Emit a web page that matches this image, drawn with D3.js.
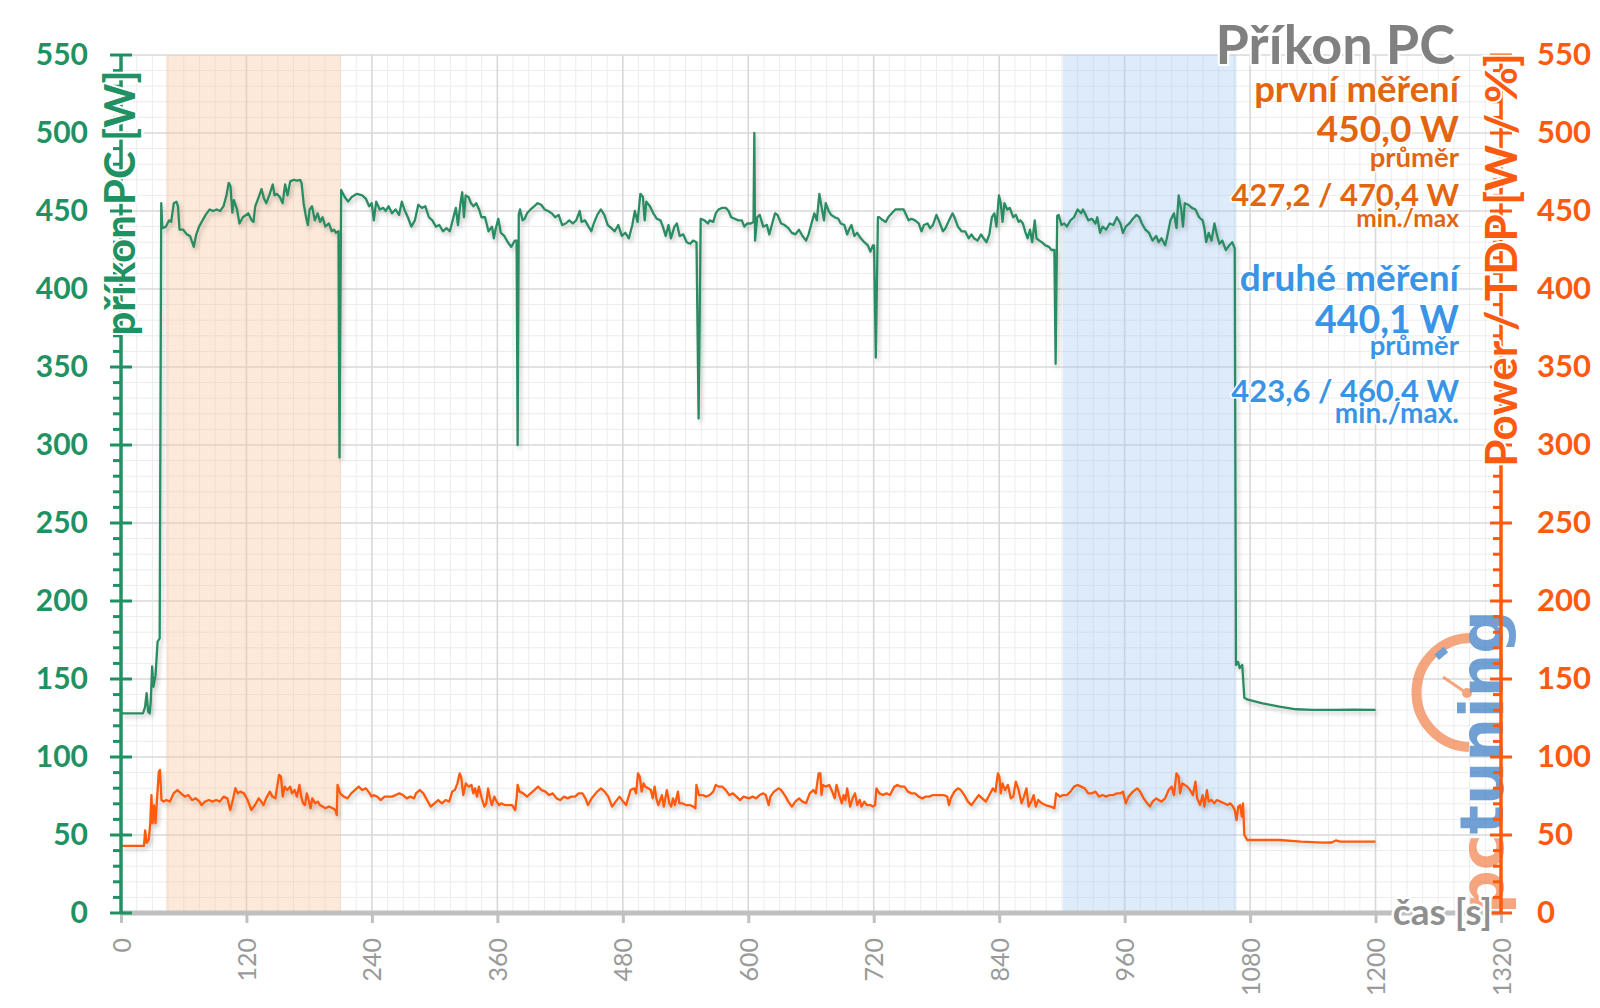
<!DOCTYPE html>
<html><head><meta charset="utf-8">
<script src="https://cdn.jsdelivr.net/npm/d3@7"></script>
<style>body{margin:0;background:#fff}svg{display:block}text{font-family:Lato,'Open Sans',sans-serif}</style>
</head><body><svg id="c" width="1600" height="1008"></svg>
<script>
// ---------- data ----------
const timeTicks = [0,120,240,360,480,600,720,840,960,1080,1200,1320];
const powerTicks = [0,50,100,150,200,250,300,350,400,450,500,550];
const bandPrvni = [43, 210.5];
const bandDruhe = [901, 1067];
const chartTitle = "Příkon PC";
const leftTitle = "příkon PC [W]";
const rightTitle = "Power / TDP [W / %]";
const xTitle = "čas [s]";
const infoPrvni = ["první měření","450,0 W","průměr","427,2 / 470,4 W","min./max"];
const infoDruhe = ["druhé měření","440,1 W","průměr","423,6 / 460,4 W","min./max."];

// příkon PC [W] : [time s, watts]
const prikonPC = [
[0,128],[21,128],[23,132],[24.5,141],[26,129],[27.5,128],[28.5,136],[29.8,158],[31,145],[33,152],[35,174],[37,176],
[38.5,455],[39.5,439],[43,440],[46,444],[48,443],[50.5,455],[53,456],[54.5,453],[56,438],[59.5,438],[63,435],[66,434],[69.6,427],[72,435],[74.7,440],[78,444],[81.4,448],[84.8,451],[88,450],[91.5,451],[94.8,450],[98,453],[100.9,460],[103,468],[104.7,466],[106.5,449],[108,457],[111,451],[113.3,442],[116.6,446],[121.7,448.5],[125,444],[126.7,443],[128.4,453],[131.8,459],[134.4,464],[136.8,458],[139,455],[141.8,460],[145.2,467],[146.9,460],[149,461],[151.9,459],[154.6,455],[157,467],[159.3,460],[161.9,469],[165.3,470],[168.6,469.5],[171.3,470],[172.7,468],[174.7,455],[177,446],[178.7,441],[180.4,451],[182.7,453],[185.4,444],[188.1,448.5],[190.5,443],[192.8,446],[195.5,440],[198.9,442],[201.6,437],[203.9,438],[205.6,436],[208,437],[209,292],[210.6,463.5],
[214,459],[217.3,456],[220.7,459],[225.7,461],[230.7,460],[234.1,458],[237.4,453],[239.8,455],[241.8,444],[244.1,456],[247.5,451],[250.9,452],[253.2,450],[255.9,453],[259.2,448.5],[262.6,451],[266,447.5],[268.6,456],[271,451],[274.4,446],[277.7,440],[281.1,444],[284.4,454],[287.8,452],[291.1,453],[294.5,446],[297.8,444],[301.2,440],[304.5,441],[307.9,437],[311.3,439],[314.6,437],[318,446],[320.3,452],[322.3,441],[324.7,455],[326.4,462],[328,446],[329.7,460],[332.4,459],[334.8,455],[337.1,453],[339.8,455],[342.5,451],[344.8,446],[348.2,446],[351.5,437],[354.9,440],[356.6,432.5],[358.2,438],[360.9,445],[363.3,436],[366.6,434],[370,430],[373.3,427],[376.7,431],[378.4,431],[379.4,300],[380.5,448],
[381.7,451],[384.1,444],[386.1,445],[388.4,448.5],[391.8,451],[395.2,453],[398.5,455],[401.9,454],[405.2,451],[408.6,450],[412,448.5],[415.3,446],[418.6,447.5],[422,441],[425.4,442],[428.7,444],[432.1,442],[435.4,444],[438.8,450],[440.5,443],[443.8,444],[447.2,440],[449.9,437],[452.2,442],[455.6,447.5],[459,451],[462.3,447.5],[465.6,441],[469,439],[472.3,437],[475.7,441],[479,434],[482.4,436],[485.8,432.5],[489.1,441],[491.5,450],[494.1,443],[496.8,461],[499.2,459],[500.9,444],[502.5,456],[505.9,453],[509.2,448.5],[512.6,445],[516,444],[518.3,440],[521,434],[523.7,441],[526,432.5],[529.4,440],[531.7,442],[534.4,434],[537.8,435],[541.1,430],[544.5,429],[547.2,431],[550.5,430],[552.5,317],[554.5,445],
[558,444],[561.4,442],[563.1,444],[566.5,443],[568.9,448.5],[571.6,451],[575,452],[578.5,452],[581.2,450],[583.6,446],[587,445],[590.4,444],[593.8,444],[596.2,440],[599,442],[602.4,442],[605,443],[605.8,500],[606.5,431],[608.5,446],[610.9,447.5],[614.3,440],[617.8,441],[620.1,435],[622.9,442],[625.6,448.5],[628,447.5],[631.4,442],[634.8,441],[638.3,439],[641.7,436],[645.1,435],[648.5,438],[651.9,434],[655.3,431],[657.7,435],[660.5,442],[663.2,448.5],[665.6,444],[668,461],[670,453],[672.4,444],[674.1,455],[676.9,450],[679.3,447.5],[682.7,446],[686.1,445],[688.5,442],[691.9,441],[694.6,435],[696.3,438],[698.7,441],[701.5,434],[704.2,436],[707.6,432.5],[711,430],[714.4,428],[716.8,424],[719.2,428],[720.3,428],[722,356],[724,446],
[725.4,446],[728.8,444],[731.5,443],[733.9,446],[737.3,448.5],[740.7,451],[744.2,451],[748.6,451],[751,447.5],[753.4,444],[756.1,445],[759.5,444],[763,442],[765.7,437],[768.1,441],[771.5,442],[773.9,439],[776.6,441],[780,447.5],[783.4,442],[786.2,437],[788.6,439],[792,444],[795.4,448.5],[797.8,445],[800.5,440],[804,437],[807.4,437],[810.8,432.5],[813.5,435],[815.9,432.5],[819.3,431],[822.7,435],[825.1,432.5],[827.9,430],[830.6,435],[833,446],[835.4,448.5],[837.4,440],[839.8,460],[841.5,455],[843.2,443],[845,455],[847.7,451],[850.1,452],[853.5,446],[855.9,447.5],[858.6,443],[860.3,444],[862.7,442],[864.8,437],[867.2,432.5],[869.5,438],[871.6,430],[874,444],[875.7,432.5],[878.4,431],[880.8,430],[884.2,428],[887.7,427],[890,425],[892.8,425],[894,352],[895.5,447],
[896.9,447.5],[899.6,441],[902.3,442],[904.7,440],[908.2,444],[911.6,446],[915,451],[918.4,448.5],[920.1,451],[922.8,447.5],[925.2,444],[928.6,445],[932.1,442],[933.8,446],[936.5,436],[938.9,440],[942.3,438],[945.7,442],[949.2,441],[952.6,446],[956,442],[958.4,436],[961.1,440],[964.5,442],[967.9,445],[971.4,447.5],[974.1,446],[976.5,442],[979.9,438],[983.3,436],[986.7,431],[990.2,434],[992.5,430],[995.3,432.5],[998.7,428],[1000.4,432.5],[1003.8,444],[1007.2,448.5],[1009.6,439],[1011.7,460],[1014.1,451],[1015.8,440],[1017.5,455],[1020.9,454],[1024.3,452],[1027.7,451],[1031.2,446],[1034.6,444],[1036.3,439],[1038,430],[1040.4,436],[1043.1,431],[1045.9,442],[1048.2,435],[1050.6,429],[1053.4,431],[1056.8,425],[1060.2,428],[1062.9,430],[1065.3,426],
[1066.5,159],[1068.5,161],[1070,157],[1072.5,159],[1074.5,138],[1077,137],[1092,134.4],[1108,132.3],[1124,130.6],[1140,130.2],[1160,130.2],[1180,130.4],[1200,130.2]
];

// Power / TDP [W / %] : [time s, value]
const powerTDP = [
[0,43],[22,43],[23.1,53],[24.5,45],[26.6,47],[28,57.5],[29.1,75.6],[30.2,57.5],[31.6,69],[33,57.5],[34.4,72.4],[36.2,90.6],[37.3,91.7],[38.7,72.4],[40.8,71.4],[43.3,72.4],[46.8,71.4],[50.3,76.7],[53.9,78.8],[57.4,76.7],[61,74.6],[64.5,75.6],[68,72.4],[71.6,73.5],[75.1,71.4],[76.9,69.2],[80.4,71.4],[84,72.4],[87.5,71.4],[91,72.4],[94.6,71.4],[98.1,74.6],[101.7,73.5],[104.5,66],[107,72.4],[109.4,80],[111.6,76.7],[114,77.8],[117.6,76.7],[121.1,72.4],[124.7,66],[128.2,69.2],[131.7,73.5],[134.2,71.4],[136.3,69.2],[138.8,73.5],[142.4,77.8],[144.8,74.6],[147.7,73.5],[149.4,81],[151.2,88.5],[153,87.4],[154.7,74.6],[156.5,81],[159,78.8],[161.8,81],[163.6,76.7],[166.1,78.8],[168.2,74.6],[170.7,82.1],[172.4,74.6],[174.2,70.3],[176,69.2],[177.7,76.7],[179.5,72.4],[181.3,67.1],[183,73.5],[185.9,70.3],[188.4,71.4],[190.1,69.2],[193,68.2],[195.4,67.1],[199,68.2],[202.5,67.1],[205,66],[206.4,62.8],[207.1,82.1],[209.6,76.7],
[213.1,74.6],[216.7,73.5],[220.2,76.7],[223.7,78.8],[227.3,81],[230.8,78.8],[234.3,79.9],[237.9,76.7],[239.7,74.6],[241.4,75.6],[245,74.6],[248.5,72.4],[252.1,74.6],[255.6,74.6],[259.1,74.6],[262.7,75.6],[266.2,76.7],[269.7,75.6],[273.3,73.5],[276.8,74.6],[280.4,73.5],[282.1,76.7],[285.7,78.8],[289.2,76.7],[292.7,72.4],[296.3,68.2],[299.8,70.3],[303.4,72.4],[306.9,70.3],[310.4,72.4],[314,71.4],[316.8,77.8],[319.3,78.8],[321.8,83.1],[323.9,89.5],[325.3,87.4],[327.4,75.6],[329.9,83.1],[332.4,81],[335.2,82.1],[337,76.7],[338.7,79.9],[340.5,74.6],[342.3,81],[345.1,73.5],[347.6,68.2],[349.4,70.3],[351.1,79.9],[352.9,73.5],[354.7,69.2],[357.1,74.6],[359.3,71.4],[361.7,69.2],[363.5,70.3],[367,69.2],[370.6,69.2],[374.1,69.2],[377,66],[378.4,73.5],[379.4,82.1],
[381.2,77.8],[384.7,76.7],[388.3,74.6],[391.8,76.7],[395.4,78.8],[398.9,81],[402.4,78.8],[406,77.8],[409.5,75.6],[413,76.7],[416.6,73.5],[420.1,72.4],[423.7,74.6],[427.2,73.5],[430.7,74.6],[434.3,74.6],[437.8,76.7],[441.4,76.7],[444.2,73.5],[446.7,69.2],[450.2,73.5],[455.5,77.8],[459.1,79.9],[462.6,77.8],[466.1,74.6],[469.7,68.2],[473.2,71.4],[476.8,74.6],[480.3,71.4],[483.1,69.2],[487.4,78.8],[490.9,79.9],[492.7,76.7],[494.5,89.5],[496.2,87.4],[498,77.8],[499.8,83.1],[501.5,81],[504.4,79.9],[506.8,78.8],[508.6,73.5],[510.4,81],[512.1,73.5],[513.9,69.2],[515.7,72.4],[517.4,75.6],[519.2,68.2],[522.1,78.8],[524.5,70.3],[526.3,68.2],[528,73.5],[529.8,69.2],[532.7,77.8],[534.1,70.3],[536.9,70.3],[540.4,69.2],[544,69.2],[547.5,68.2],[549.4,67.1],[550.4,82.1],
[552.8,75.6],[556.3,75.6],[559.7,74.6],[563.1,75.6],[566.5,77.8],[568.9,82.1],[571.6,81],[575,81],[578.5,78.8],[581.9,75.6],[585.3,76.7],[588.7,74.6],[592.1,72.4],[595.5,74.6],[600.7,73.5],[604.1,74.6],[607.5,73.5],[610.9,75.6],[614.3,76.7],[616.7,75.6],[619.5,69.2],[621.2,74.6],[624.6,77.8],[629,79.9],[631.4,78.8],[634.8,75.6],[638.3,71.4],[641.7,68.2],[645.1,71.4],[648.5,73.5],[651.9,71.4],[655.3,70.3],[658.8,76.7],[662.2,78.8],[664.6,76.7],[667.3,89.5],[669,89.5],[670,75.6],[671.4,82.1],[674.1,81],[677.5,82.1],[680.3,77.8],[682.7,73.5],[684.4,82.1],[687.1,75.6],[689.5,70.3],[691.2,75.6],[692.9,72.4],[694.6,79.9],[697.4,68.2],[699.8,73.5],[702.1,76.7],[704.2,69.2],[706.6,72.4],[708.3,68.2],[711,71.4],[713.4,69.2],[716.8,69.2],[719.2,68.2],[721.3,69.2],[722.6,79.9],
[725.4,76.7],[728.8,75.6],[732.2,76.7],[735.6,75.6],[739.7,81],[742.5,82.1],[745.9,81],[749.3,81],[752.7,77.8],[756.1,76.7],[759.5,76.7],[763,74.6],[766.4,73.5],[769.8,74.6],[773.2,74.6],[776.6,75.6],[781.7,75.6],[786.9,75.6],[790.3,74.6],[792,69.2],[793.7,73.5],[797.1,77.8],[800.5,79.9],[803.3,78.8],[806.7,75.6],[810.1,71.4],[813.5,69.2],[816.9,72.4],[820.4,75.6],[823.8,73.5],[827.2,71.4],[830.6,75.6],[834,79.9],[836.4,77.8],[838.8,89.5],[840.2,87.4],[841.5,76.7],[843.2,83.1],[845.6,78.8],[848.4,82.1],[851.1,73.5],[853.5,74.6],[855.9,84.2],[858.6,78.8],[861.4,70.3],[863.7,74.6],[866.1,79.9],[868.2,68.2],[870.6,71.4],[873,75.6],[875,68.2],[877.4,72.4],[880.8,70.3],[884.2,69.2],[889.4,68.2],[892.8,67.1],[894.5,76.7],
[897.9,74.6],[901.3,75.6],[904.7,75.6],[908.2,77.8],[911.6,81],[915,82.1],[918.4,81],[921.8,79.9],[925.2,76.7],[928.6,76.7],[932.1,77.8],[935.5,74.6],[938.9,75.6],[942.3,74.6],[945.7,75.6],[949.2,75.6],[952.6,76.7],[956,76.7],[958.4,77.8],[961.1,70.3],[963.8,74.6],[968,77.8],[972,79.9],[974.8,77.8],[978.2,73.5],[981.6,70.3],[984.3,68.2],[986.7,71.4],[990.2,73.5],[992.5,72.4],[995.3,71.4],[998.7,73.5],[1002.1,78.8],[1004.9,81],[1007.2,75.6],[1009.6,89.5],[1011.7,87.4],[1013,76.7],[1015.1,83.1],[1017.5,82.1],[1019.9,81],[1022.6,78.8],[1025.3,75.6],[1027.7,84.2],[1029.4,73.5],[1032.2,69.2],[1034.6,75.6],[1036.3,68.2],[1038.7,78.8],[1040.4,71.4],[1043.1,72.4],[1045.8,70.3],[1048.2,72.4],[1051.6,71.4],[1055.1,70.3],[1058.5,69.2],[1060.9,70.3],[1063.6,68.2],[1065.3,66],[1067,59.6],[1068.7,68.2],[1070.4,69.2],[1072.1,61.8],[1073.2,70.3],[1074.5,50],[1077.3,46.8],
[1100,46.8],[1108,46.8],[1128.6,45.7],[1150,45.1],[1158,45.2],[1162,46.5],[1166,45.7],[1200,45.7]
];

// ---------- drawing ----------
const svg = d3.select("#c");
const x = d3.scaleLinear().domain([0,1320]).range([121,1501]);
const y = d3.scaleLinear().domain([0,550]).range([913,55]);
const GREEN = "#1f9162", GREEN_LINE = "#2b8c62", ORANGE = "#fc5a0e", ORANGE_LINE = "#ff5a0c";
const ORANGE_TXT = "#e2660f", BLUE_TXT = "#3a94e6", GREY = "#9a9a9a";

const defs = svg.append("defs");
const f = defs.append("filter").attr("id","sh").attr("x","-5%").attr("y","-10%").attr("width","110%").attr("height","130%");
f.append("feDropShadow").attr("dx",2).attr("dy",3).attr("stdDeviation",2).attr("flood-color","#000").attr("flood-opacity",0.22);

const plot = svg.append("g");
// minor grid
plot.selectAll(".mgx").data(d3.range(0,1321,15).filter(t=>t%120!==0)).join("line")
  .attr("x1",d=>x(d)).attr("x2",d=>x(d)).attr("y1",y(550)).attr("y2",y(0))
  .attr("stroke","#ececec").attr("stroke-width",1);
plot.selectAll(".mgy").data(d3.range(0,551,10).filter(v=>v%50!==0)).join("line")
  .attr("y1",d=>y(d)).attr("y2",d=>y(d)).attr("x1",x(0)).attr("x2",x(1320))
  .attr("stroke","#ececec").attr("stroke-width",1);
// major grid
plot.selectAll(".Mgx").data(timeTicks.slice(1)).join("line")
  .attr("x1",d=>x(d)).attr("x2",d=>x(d)).attr("y1",y(550)).attr("y2",y(0))
  .attr("stroke","#d8d8d8").attr("stroke-width",1.6);
plot.selectAll(".Mgy").data(powerTicks.slice(1)).join("line")
  .attr("y1",d=>y(d)).attr("y2",d=>y(d)).attr("x1",x(0)).attr("x2",x(1320))
  .attr("stroke","#d8d8d8").attr("stroke-width",1.6);

// bands
plot.append("rect").attr("x",x(bandPrvni[0])).attr("width",x(bandPrvni[1])-x(bandPrvni[0]))
  .attr("y",y(550)).attr("height",y(0)-y(550)).attr("fill","rgb(250,200,160)").attr("fill-opacity",0.4);
plot.append("rect").attr("x",x(bandDruhe[0])).attr("width",x(bandDruhe[1])-x(bandDruhe[0]))
  .attr("y",y(550)).attr("height",y(0)-y(550)).attr("fill","rgb(160,200,245)").attr("fill-opacity",0.36);

// logo watermark
const logo = svg.append("g").attr("opacity",0.72);
logo.append("path").attr("d","M1473,638 A54,54 0 0 0 1469,747").attr("fill","none")
  .attr("stroke","#f2844f").attr("stroke-width",10);
logo.append("rect").attr("x",1435).attr("y",650).attr("width",12).attr("height",7)
  .attr("transform","rotate(-40,1441,653)").attr("fill","#3b7dc4");
logo.append("line").attr("x1",1443).attr("y1",677).attr("x2",1465).attr("y2",692)
  .attr("stroke","#f2844f").attr("stroke-width",3);
logo.append("circle").attr("cx",1467).attr("cy",693).attr("r",5).attr("fill","#f2844f");
const lt = logo.append("text").attr("transform","translate(1503,914) rotate(-90)")
  .style("font-family","'DejaVu Sans',sans-serif").style("font-weight","bold").style("font-size","61px");
lt.append("tspan").attr("fill","#f2844f").text("pc");
lt.append("tspan").attr("fill","#3b7dc4").text("tuning");

// lines
const line = d3.line().x(d=>x(d[0])).y(d=>y(d[1]));
svg.append("path").datum(powerTDP).attr("d",line).attr("fill","none")
  .attr("stroke",ORANGE_LINE).attr("stroke-width",2.3).attr("stroke-linejoin","round").attr("filter","url(#sh)");
svg.append("path").datum(prikonPC).attr("d",line).attr("fill","none")
  .attr("stroke",GREEN_LINE).attr("stroke-width",2.3).attr("stroke-linejoin","round").attr("filter","url(#sh)");

// x axis
svg.append("line").attr("x1",x(0)).attr("x2",x(1320)).attr("y1",y(0)).attr("y2",y(0))
  .attr("stroke","#c0c0c0").attr("stroke-width",5);
const xAxis = d3.axisBottom(x).tickValues(timeTicks).tickSize(10).tickFormat(d3.format("d"));
const gx = svg.append("g").attr("transform",`translate(0,${y(0)})`).call(xAxis);
gx.select(".domain").remove();
gx.selectAll(".tick line").attr("stroke","#c0c0c0").attr("stroke-width",3);
gx.selectAll(".tick text").attr("fill",GREY).style("font-size","25px").style("font-family","Lato,sans-serif")
  .attr("transform","rotate(-90)").attr("text-anchor","end").attr("x",-25).attr("y",0).attr("dy","0.36em");

// left axis
const minorY = d3.range(0,551,10).filter(v=>v%50!==0);
svg.selectAll(".lminor").data(minorY).join("line")
  .attr("x1",x(0)-8).attr("x2",x(0)).attr("y1",d=>y(d)).attr("y2",d=>y(d)).attr("stroke",GREEN).attr("stroke-width",3);
svg.append("line").attr("x1",x(0)).attr("x2",x(0)).attr("y1",y(0)+1).attr("y2",y(550)).attr("stroke",GREEN).attr("stroke-width",3.5);
const yAxisL = d3.axisLeft(y).tickValues(powerTicks).tickSize(0).tickPadding(33).tickFormat(d3.format("d"));
const gl = svg.append("g").attr("transform",`translate(${x(0)},0)`).call(yAxisL);
gl.select(".domain").remove();
gl.selectAll(".tick text").attr("fill",GREEN).style("font-size","30px").style("font-weight","bold").style("font-family","Lato,sans-serif");
svg.selectAll(".lmajor").data(powerTicks).join("line")
  .attr("x1",x(0)-11).attr("x2",x(0)+11).attr("y1",d=>y(d)).attr("y2",d=>y(d)).attr("stroke",GREEN).attr("stroke-width",3);

// right axis
svg.selectAll(".rminor").data(minorY).join("line")
  .attr("x1",x(1320)-8).attr("x2",x(1320)).attr("y1",d=>y(d)).attr("y2",d=>y(d)).attr("stroke",ORANGE).attr("stroke-width",3);
svg.append("line").attr("x1",x(1320)).attr("x2",x(1320)).attr("y1",y(0)+1).attr("y2",y(550)).attr("stroke",ORANGE).attr("stroke-width",3.5);
const yAxisR = d3.axisRight(y).tickValues(powerTicks).tickSize(0).tickPadding(36).tickFormat(d3.format("d"));
const gr = svg.append("g").attr("transform",`translate(${x(1320)},0)`).call(yAxisR);
gr.select(".domain").remove();
gr.selectAll(".tick text").attr("fill",ORANGE).style("font-size","31px").style("font-weight","bold").style("font-family","Lato,sans-serif");
svg.selectAll(".rmajor").data(powerTicks).join("line")
  .attr("x1",x(1320)-11).attr("x2",x(1320)+11).attr("y1",d=>y(d)).attr("y2",d=>y(d)).attr("stroke",ORANGE).attr("stroke-width",3);

// axis titles
function halo(sel,w){return sel.attr("stroke","#fff").attr("stroke-width",w).attr("paint-order","stroke").attr("stroke-linejoin","round");}
halo(svg.append("text").attr("transform","translate(120,203) rotate(-90)").attr("text-anchor","middle").attr("dy","0.36em")
  .attr("fill",GREEN).style("font-size","42px").style("font-weight","bold").text(leftTitle),4);
halo(svg.append("text").attr("transform","translate(1501,260) rotate(-90)").attr("text-anchor","middle").attr("dy","0.36em")
  .attr("fill",ORANGE).style("font-size","44px").style("font-weight","bold").text(rightTitle),4);
halo(svg.append("text").attr("x",1492).attr("y",925).attr("text-anchor","end")
  .attr("fill","#8f8f8f").style("font-size","37px").style("font-weight","bold").text(xTitle),5);

// title + info text
halo(svg.append("text").attr("x",1455).attr("y",64).attr("text-anchor","end").attr("fill","#808080")
  .style("font-size","54px").style("font-weight","bold").text(chartTitle),4);
const infoLayout = [[102,36.5],[142,37],[167,27.5],[206,31],[227,24.5]];
const infoLayout2 = [[291,37],[333,37.5],[355,27.5],[402,31],[423,28]];
infoPrvni.forEach((t,i)=>{
  halo(svg.append("text").attr("x",1459).attr("y",infoLayout[i][0]).attr("text-anchor","end").attr("fill",ORANGE_TXT)
    .style("font-size",infoLayout[i][1]+"px").style("font-weight","bold").text(t),3);
});
infoDruhe.forEach((t,i)=>{
  halo(svg.append("text").attr("x",1459).attr("y",infoLayout2[i][0]).attr("text-anchor","end").attr("fill",BLUE_TXT)
    .style("font-size",infoLayout2[i][1]+"px").style("font-weight","bold").text(t),3);
});
</script></body></html>
